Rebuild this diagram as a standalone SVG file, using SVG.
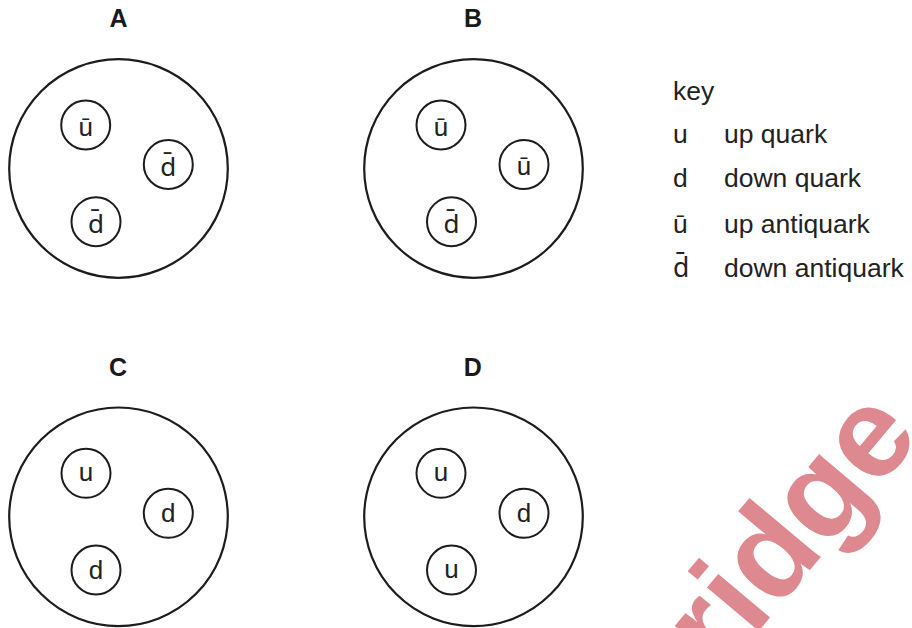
<svg xmlns="http://www.w3.org/2000/svg" width="912" height="628" viewBox="0 0 912 628">
<style>
.big{fill:none;stroke:#1c1c1c;stroke-width:2.2}
.sm{fill:none;stroke:#1c1c1c;stroke-width:2}
.q{font-family:"Liberation Sans",Arial,sans-serif;font-size:26px;fill:#222;text-anchor:middle}
.qd{font-family:Roboto,"Noto Sans",sans-serif;font-size:26px;fill:#222;text-anchor:middle}
.lab{font-family:"Liberation Sans",Arial,sans-serif;font-size:25px;font-weight:bold;fill:#1a1a1a;text-anchor:middle}
.key{font-family:"Liberation Sans",Arial,sans-serif;font-size:26.5px;fill:#222}
.keyd{font-family:Roboto,"Noto Sans",sans-serif;font-size:26.5px;fill:#222}
.wm{font-family:"Liberation Sans",Arial,sans-serif;font-size:128px;font-weight:bold;fill:#de8890}
</style>
<rect width="912" height="628" fill="#fff"/>
<g id="watermark"><text class="wm" transform="translate(721,676) rotate(-50)">ridge</text></g>
<g id="A">
<text class="lab" x="118.5" y="27">A</text>
<circle class="big" cx="118.5" cy="168.5" r="109.3"/>
<circle class="sm" cx="85.7" cy="125" r="24.5"/><text class="q" x="85.7" y="135.5">ū</text>
<circle class="sm" cx="168.3" cy="164.5" r="24.5"/><text class="qd" x="168.3" y="175.5">d̄</text>
<circle class="sm" cx="96" cy="221.7" r="24.5"/><text class="qd" x="96" y="232.7">d̄</text>
</g>
<g id="B">
<text class="lab" x="473" y="27">B</text>
<circle class="big" cx="473.5" cy="168.5" r="109.3"/>
<circle class="sm" cx="441" cy="125" r="24.5"/><text class="q" x="441" y="135.5">ū</text>
<circle class="sm" cx="524" cy="164.5" r="24.5"/><text class="q" x="524" y="175">ū</text>
<circle class="sm" cx="451.5" cy="221.7" r="24.5"/><text class="qd" x="451.5" y="232.7">d̄</text>
</g>
<g id="C">
<text class="lab" x="118" y="376">C</text>
<circle class="big" cx="118.5" cy="516.8" r="109.3"/>
<circle class="sm" cx="86" cy="473.3" r="24.5"/><text class="q" x="86" y="481">u</text>
<circle class="sm" cx="168.3" cy="513.3" r="24.5"/><text class="q" x="168.3" y="521.7">d</text>
<circle class="sm" cx="96" cy="570" r="24.5"/><text class="q" x="96" y="578.5">d</text>
</g>
<g id="D">
<text class="lab" x="472.7" y="376">D</text>
<circle class="big" cx="473.5" cy="516.8" r="109.3"/>
<circle class="sm" cx="441" cy="473.3" r="24.5"/><text class="q" x="441" y="481">u</text>
<circle class="sm" cx="524" cy="513.3" r="24.5"/><text class="q" x="524" y="521.7">d</text>
<circle class="sm" cx="451.5" cy="570" r="24.5"/><text class="q" x="451.5" y="578">u</text>
</g>
<g id="key">
<text class="key" x="673" y="100">key</text>
<text class="key" x="673" y="143.3">u</text><text class="key" x="724" y="143.3">up quark</text>
<text class="key" x="673" y="186.7">d</text><text class="key" x="724" y="186.7">down quark</text>
<text class="key" x="673" y="233">ū</text><text class="key" x="724" y="233">up antiquark</text>
<text class="keyd" x="673" y="277">d̄</text><text class="key" x="724" y="277">down antiquark</text>
</g>
<g id="connectors"/>
</svg>
